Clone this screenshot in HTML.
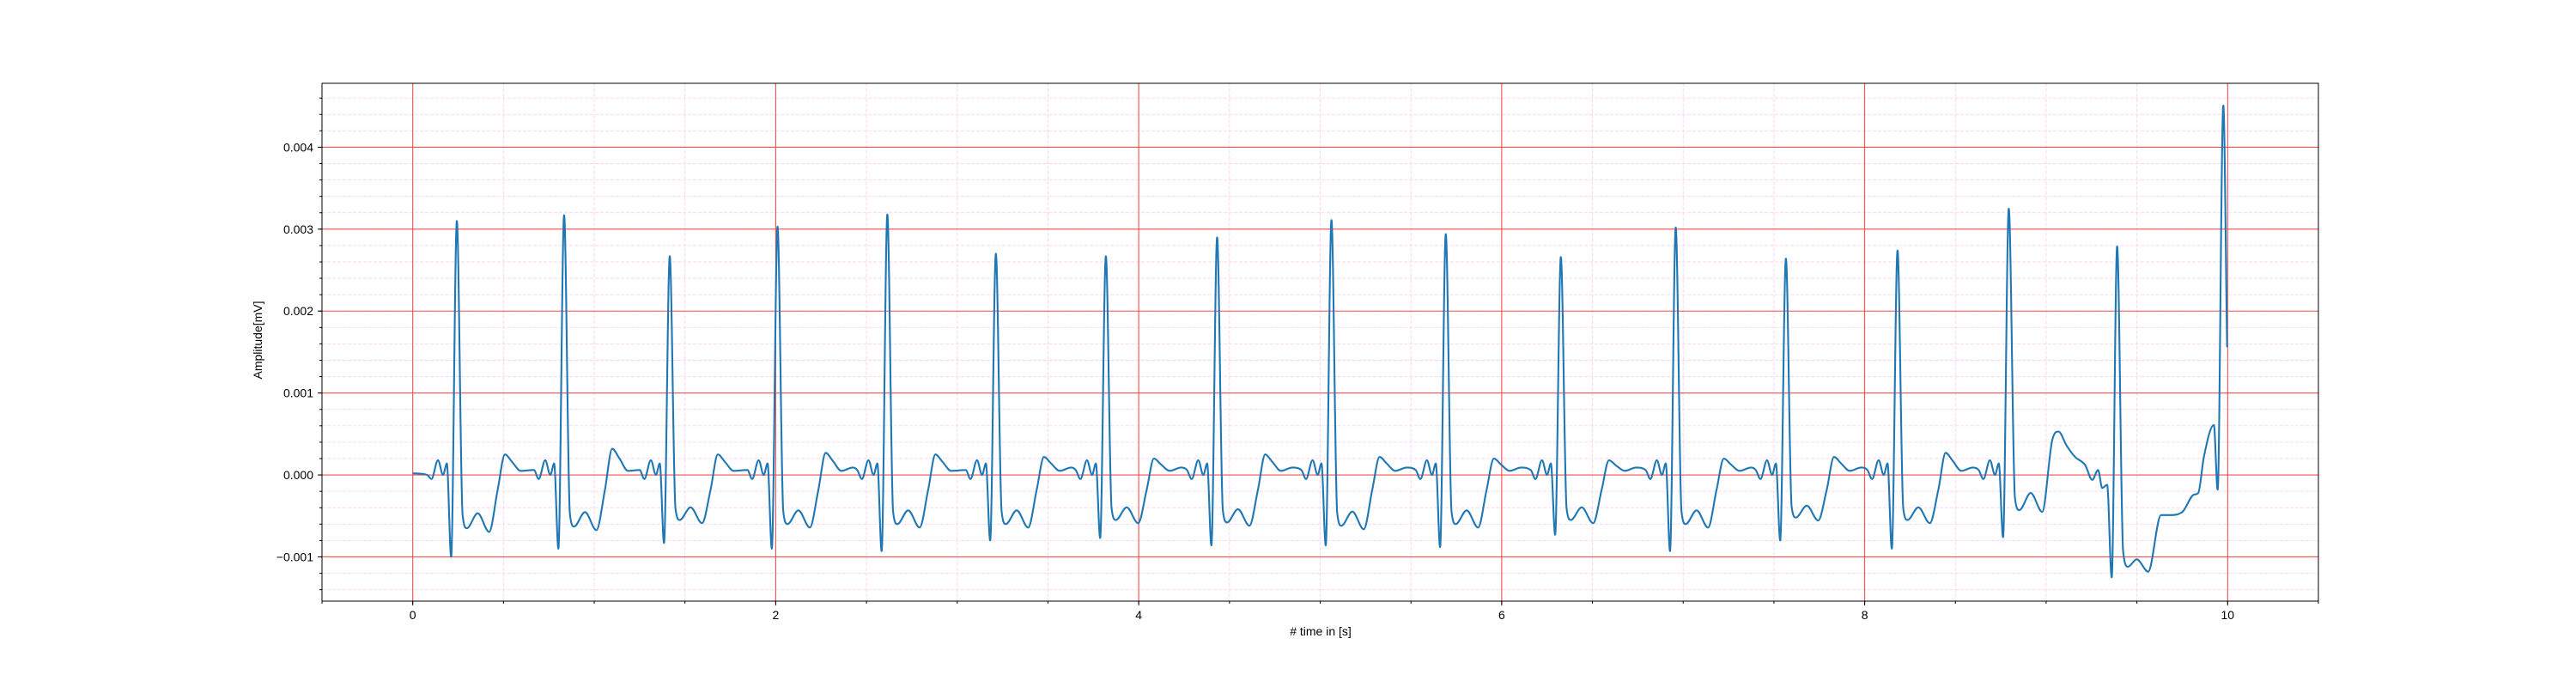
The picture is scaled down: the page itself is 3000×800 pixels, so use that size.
<!DOCTYPE html>
<html><head><meta charset="utf-8"><style>
html,body{margin:0;padding:0;background:#fff;}
svg{display:block;font-family:"Liberation Sans","DejaVu Sans",sans-serif;}
</style></head><body>
<svg id="chart" width="3000" height="800" viewBox="0 0 3000 800" xmlns="http://www.w3.org/2000/svg">
<rect x="0" y="0" width="3000" height="800" fill="#fff"/>
<g id="grid"></g>
<g id="series"></g>
<g id="axes"></g>
<text x="1538" y="740" text-anchor="middle" font-size="14" fill="#000"># time in [s]</text>
<text x="0" y="0" transform="translate(305,396) rotate(-90)" text-anchor="middle" font-size="14" fill="#000">Amplitude[mV]</text>
</svg>
<script>
// ---- data (amplitudes in 1e-3 mV units) ----
const rTimes = [0.243,0.834,1.416,2.010,2.615,3.213,3.819,4.432,5.062,5.692,6.326,6.959,7.566,8.181,8.794];
const rAmps  = [3.10,3.17,2.67,3.03,3.18,2.70,2.67,2.90,3.11,2.94,2.66,3.02,2.64,2.74,3.25];
const qAmps  = [-1.0,-0.9,-0.83,-0.9,-0.93,-0.8,-0.77,-0.86,-0.86,-0.88,-0.73,-0.93,-0.8,-0.9,-0.76];
const sAmps  = [-0.65,-0.63,-0.55,-0.6,-0.6,-0.6,-0.55,-0.58,-0.62,-0.6,-0.55,-0.6,-0.52,-0.55,-0.43];
const tAmps  = [0.25,0.32,0.25,0.27,0.25,0.22,0.2,0.25,0.22,0.2,0.18,0.2,0.22,0.27,0.53];
const headTimes = [0.0, 0.08];
const headVals  = [0.02, 0.0];
const tailTimes = [8.828,8.852,8.915,8.978,9.033,9.068,9.112,9.159,9.215,9.254,9.286,9.309,9.336,9.361,9.391,9.424,9.451,9.499,9.562,9.633,9.681,9.751,9.814,9.838,9.869,9.904,9.924,9.945,9.976,9.997];
const tailVals  = [-0.28,-0.43,-0.22,-0.45,0.42,0.53,0.36,0.22,0.12,-0.06,0.06,-0.16,-0.12,-1.25,2.79,-0.93,-1.12,-1.03,-1.18,-0.49,-0.49,-0.45,-0.24,-0.22,0.22,0.32,0.61,-0.18,4.51,1.56];
const preRel  = [-0.166,-0.14,-0.104,-0.076,-0.055];
const preVals = [0.06,-0.05,0.18,0.0,0.14];
const postRel  = [0.0315,0.055,0.115,0.178,0.225,0.265,0.304,0.352,0.415];
const postKind = ['s0.74','s1','s0.72','s1.07','c-0.18','t1','t0.64','c0.05','c0.09'];
const xTicks = [0,2,4,6,8,10];
const yTicks = [-0.001,0,0.001,0.002,0.003,0.004];
const yTickLabels = ['\u22120.001','0.000','0.001','0.002','0.003','0.004'];

// ---- axes ----
const L=375,R=2700,T=97,B=700;
const xMin=-0.5,xMax=10.5,yMin=-0.00154,yMax=0.00478;
const sx=t=>L+(t-xMin)/(xMax-xMin)*(R-L);
const sy=v=>B-(v-yMin)/(yMax-yMin)*(B-T);
const NS='http://www.w3.org/2000/svg';
function mk(tag,parent){const e=document.createElementNS(NS,tag);parent.appendChild(e);return e;}
const grid=document.getElementById('grid'),axes=document.getElementById('axes'),series=document.getElementById('series');
const MINOR='#fcd2ef';

for(let k=-1;k<=21;k++){const t=k*0.5;if(t<xMin||t>xMax)continue;
  const l=mk('line',grid);l.setAttribute('x1',sx(t));l.setAttribute('x2',sx(t));l.setAttribute('y1',T);l.setAttribute('y2',B);
  l.setAttribute('stroke',MINOR);l.setAttribute('stroke-width','0.9');l.setAttribute('stroke-dasharray','4,2');
  
  
  const tk=mk('line',axes);tk.setAttribute('x1',sx(t));tk.setAttribute('x2',sx(t));tk.setAttribute('y1',B);tk.setAttribute('y2',B+3);tk.setAttribute('stroke','#000');
  
  
}
for(let k=-8;k<=24;k++){const v=k*0.0002;if(v<yMin||v>yMax)continue;
  const l=mk('line',grid);l.setAttribute('x1',L);l.setAttribute('x2',R);l.setAttribute('y1',sy(v));l.setAttribute('y2',sy(v));
  l.setAttribute('stroke',MINOR);l.setAttribute('stroke-width','0.9');l.setAttribute('stroke-dasharray','4,2');
  
  
  const tk=mk('line',axes);tk.setAttribute('x1',L-3);tk.setAttribute('x2',L);tk.setAttribute('y1',sy(v));tk.setAttribute('y2',sy(v));tk.setAttribute('stroke','#000');
  
  
}
xTicks.forEach(t=>{
  const l=mk('line',grid);l.setAttribute('x1',sx(t));l.setAttribute('x2',sx(t));l.setAttribute('y1',T);l.setAttribute('y2',B);
  l.setAttribute('stroke','#f45050');l.setAttribute('stroke-width','1.1');
  
  
  const tk=mk('line',axes);tk.setAttribute('x1',sx(t));tk.setAttribute('x2',sx(t));tk.setAttribute('y1',B);tk.setAttribute('y2',B+5);tk.setAttribute('stroke','#000');
  
  
  const tx=mk('text',axes);tx.setAttribute('x',sx(t));tx.setAttribute('y',721);tx.setAttribute('text-anchor','middle');tx.setAttribute('font-size','14');tx.textContent=String(t);
  
  
});
yTicks.forEach((v,i)=>{
  const l=mk('line',grid);l.setAttribute('x1',L);l.setAttribute('x2',R);l.setAttribute('y1',sy(v));l.setAttribute('y2',sy(v));
  l.setAttribute('stroke','#f45050');l.setAttribute('stroke-width','1.1');
  
  
  const tk=mk('line',axes);tk.setAttribute('x1',L-5);tk.setAttribute('x2',L);tk.setAttribute('y1',sy(v));tk.setAttribute('y2',sy(v));tk.setAttribute('stroke','#000');
  
  
  const tx=mk('text',axes);tx.setAttribute('x',365);tx.setAttribute('y',sy(v)+5);tx.setAttribute('text-anchor','end');tx.setAttribute('font-size','14');tx.textContent=yTickLabels[i];
  
  
});
const frame=mk('rect',axes);frame.setAttribute('x',L);frame.setAttribute('y',T);frame.setAttribute('width',R-L);frame.setAttribute('height',B-T);
frame.setAttribute('fill','none');frame.setAttribute('stroke','#000');frame.setAttribute('stroke-width','1');



// ---- build keypoints ----
let pts=[];
headTimes.forEach((t,i)=>pts.push([t,headVals[i]]));
rTimes.forEach((rt,b)=>{
  const beat=[];
  preRel.forEach((d,i)=>beat.push([rt+d,preVals[i]]));
  beat.push([rt-0.0315,qAmps[b]]);
  beat.push([rt,rAmps[b]]);
  postRel.forEach((d,i)=>{const k=postKind[i],c=k[0],f=parseFloat(k.slice(1));
    let v=c==='s'?sAmps[b]*f:c==='t'?tAmps[b]*f:f;beat.push([rt+d,v]);});
  beat.forEach(p=>pts.push(p));
});
tailTimes.forEach((t,i)=>pts.push([t,tailVals[i]]));
pts.sort((a,b)=>a[0]-b[0]);
const rset=new Set();rTimes.forEach(rt=>{rset.add(+(rt).toFixed(4));rset.add(+(rt-0.0315).toFixed(4));});
let filtered=[];
for(const p of pts){
  if(p[0]>tailTimes[0]-0.005 && !tailTimes.includes(p[0]))continue;
  if(p[0]<=headTimes[headTimes.length-1] && !headTimes.includes(p[0]))continue;
  filtered.push(p);
}
let clean=[];
for(const p of filtered){
  while(clean.length && p[0]-clean[clean.length-1][0]<0.02){
    const prev=clean[clean.length-1];
    if(rset.has(+prev[0].toFixed(4)))break;
    clean.pop();
  }
  clean.push(p);
}
const X=clean.map(p=>sx(p[0])),Y=clean.map(p=>sy(p[1]*0.001));
const n=X.length,dl=[],m=new Array(n).fill(0);
for(let i=0;i<n-1;i++)dl.push((Y[i+1]-Y[i])/(X[i+1]-X[i]));
m[0]=dl[0];m[n-1]=dl[n-2];
for(let i=1;i<n-1;i++){m[i]=(dl[i-1]*dl[i]<=0)?0:(dl[i-1]+dl[i])/2;}
for(let i=0;i<n-1;i++){if(dl[i]===0){m[i]=0;m[i+1]=0;continue;}
  const a=m[i]/dl[i],b=m[i+1]/dl[i],s=a*a+b*b;if(s>9){const t=3/Math.sqrt(s);m[i]=t*a*dl[i];m[i+1]=t*b*dl[i];}}
let d='M'+X[0].toFixed(2)+','+Y[0].toFixed(2);
for(let i=0;i<n-1;i++){const h=X[i+1]-X[i];
  d+=' C'+(X[i]+h/3).toFixed(2)+','+(Y[i]+m[i]*h/3).toFixed(2)+' '+(X[i+1]-h/3).toFixed(2)+','+(Y[i+1]-m[i+1]*h/3).toFixed(2)+' '+X[i+1].toFixed(2)+','+Y[i+1].toFixed(2);}
const path=mk('path',series);path.setAttribute('d',d);path.setAttribute('fill','none');path.setAttribute('stroke','#1f77b4');
path.setAttribute('stroke-width','2.1');path.setAttribute('stroke-linejoin','round');


</script>
</body></html>
